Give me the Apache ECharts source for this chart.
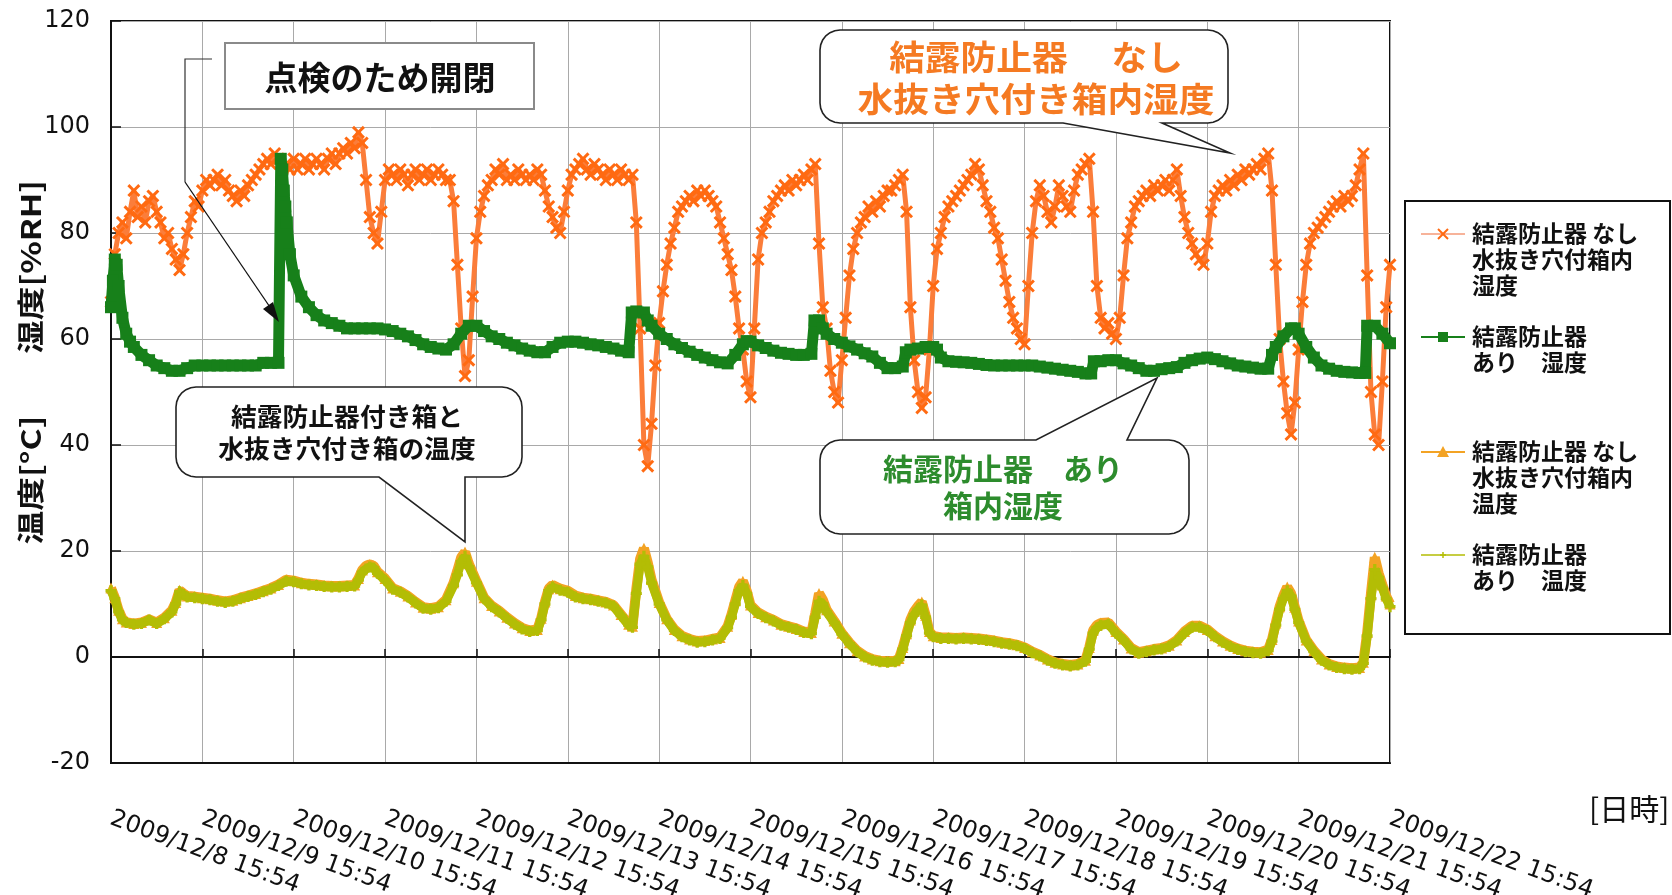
<!DOCTYPE html>
<html>
<head>
<meta charset="utf-8">
<script src="https://cdn.jsdelivr.net/npm/echarts/dist/echarts.min.js"></script>
<style>
  html, body { margin: 0; padding: 0; background: #ffffff; }
  #chart { width: 1672px; height: 895px; }
</style>
</head>
<body>
<div id="chart"></div>
<script>
// Tick labels for the time axis (one per day, hours counted from 2009/12/8 15:54)
const dayLabels = [
  '2009/12/8 15:54', '2009/12/9 15:54', '2009/12/10 15:54', '2009/12/11 15:54',
  '2009/12/12 15:54', '2009/12/13 15:54', '2009/12/14 15:54', '2009/12/15 15:54',
  '2009/12/16 15:54', '2009/12/17 15:54', '2009/12/18 15:54', '2009/12/19 15:54',
  '2009/12/20 15:54', '2009/12/21 15:54', '2009/12/22 15:54'
];

// Humidity [%RH] inside the box with drain hole, no anti-condensation unit (hourly)
const rhPlain = [
  67,76,80,82,79,84,88,83,85,82,86,87,84,82,79,80,77,75,73,76,80,83,86,85,
  88,90,89,90,91,89,90,88,87,86,88,87,89,90,91,92,93,94,93,95,94,92,93,92,
  94,92,93,94,92,93,94,93,92,94,95,93,95,96,95,97,96,99,97,90,83,80,78,84,
  90,92,91,90,92,91,89,91,92,90,91,92,90,91,92,91,90,90,86,74,62,53,56,68,
  79,84,87,89,90,92,91,93,90,91,90,92,91,90,91,90,92,91,88,85,83,81,80,84,
  88,91,92,93,94,92,91,93,92,91,90,92,91,90,92,91,90,91,82,62,40,36,44,55,
  63,69,74,78,81,84,85,86,87,86,88,87,88,87,86,85,82,79,76,73,68,62,58,52,
  49,62,75,80,82,84,86,87,88,89,88,90,89,90,91,90,92,93,78,66,62,54,50,48,
  56,64,72,77,80,82,83,85,84,86,85,87,88,88,89,90,91,84,66,56,50,47,49,58,
  70,77,80,83,85,86,87,88,89,90,91,93,92,89,86,84,81,79,75,71,67,64,62,60,
  59,70,80,86,89,87,84,82,85,89,87,85,84,88,91,92,93,94,84,70,64,62,63,61,
  60,64,72,79,82,85,86,87,88,87,89,88,89,90,88,90,92,87,83,80,78,76,75,74,
  78,84,87,88,89,88,90,89,91,90,92,91,92,93,92,94,95,88,74,60,52,46,42,48,
  58,67,74,78,80,81,82,83,84,85,86,85,87,86,87,89,92,95,72,50,42,40,52,66,
  74
];

// Humidity [%RH] inside the box with anti-condensation unit: [hour, value]
const rhGuard = [
  [0,66],[0.5,71],[1,75],[1.5,74],[2,70],[3,64],[4,61],[5,59.5],[6,58.5],[8,57],
  [10,56],[12,55],[14,54.5],[16,54],[18,54],[20,54.5],[22,55],[24,55],[26,55],[28,55],
  [30,55],[32,55],[34,55],[36,55],[38,55],[40,55.5],[42,55.5],[44,55.5],
  [44.6,94],[45,92],[45.4,88],[45.8,85],[46.2,82],[47,76],[48,72],[50,68],[52,66],
  [54,64.5],[56,63.5],[58,63],[60,62.5],[62,62],[64,62],[66,62],[68,62],[70,62],
  [72,61.8],[74,61.5],[76,61],[78,60.5],[80,59.8],[82,59],[84,58.5],[86,58.2],[88,58],
  [90,59],[92,61],[94,62.5],[96,62.5],[98,61.5],[100,60.5],[102,60],[104,59.3],[106,58.8],
  [108,58.2],[110,57.8],[112,57.5],[114,57.5],[116,58.5],[118,59.3],[120,59.5],[122,59.5],
  [124,59.3],[126,59],[128,58.8],[130,58.5],[132,58.2],[134,57.8],[136,57.5],[136.8,65],
  [138,65.2],[140,65],[141,63.5],[142,62.5],[144,61],[146,60],[148,59],[150,58.3],
  [152,57.6],[154,57],[156,56.5],[158,56],[160,55.6],[162,55.4],[164,57],[166,59],
  [167,59.6],[168,59.5],[170,58.8],[172,58.3],[174,57.8],[176,57.4],[178,57.2],[180,57],
  [182,57],[184,57.2],[184.8,63.5],[186,63.5],[187,62],[188,61],[190,60],[192,59.3],
  [194,58.6],[196,58],[198,57.3],[200,56.7],[202,55.5],[204,54.5],[206,54.5],[208,54.8],
  [208.8,57.5],[210,58],[212,58.2],[214,58.5],[216,58.5],[217,58],[218,56.5],[220,55.8],
  [222,55.7],[224,55.6],[226,55.5],[228,55.3],[230,55.1],[232,55],[234,55],[236,55],
  [238,55],[240,55],[242,55],[244,54.8],[246,54.6],[248,54.4],[250,54.2],[252,54],
  [254,53.8],[256,53.5],[257.5,53.5],[258.2,55.8],[260,55.8],[262,56],[264,56],[266,55.4],
  [268,55],[270,54.5],[272,54],[274,54],[276,54.3],[278,54.5],[280,54.7],[282,55.5],
  [284,56],[286,56.3],[288,56.5],[290,56.2],[292,55.8],[294,55.4],[296,55],[298,54.8],
  [300,54.6],[302,54.4],[304,54.4],[305,57],[306,58.5],[308,60.5],[310,62],[311,62],
  [312,61],[314,58.5],[316,56.5],[318,55],[320,54.4],[322,54],[324,53.8],[326,53.7],
  [328,53.6],[329.5,53.6],[330,62.5],[332,62.5],[334,61],[336,59.2]
];

// Temperature [°C] inside the box with drain hole, no unit: [hour, value]
const tPlain = [
  [0,13],[1,11.2],[2,8.8],[3,7.2],[4,6.6],[6,6.3],[8,6.5],[10,7.1],[12,6.5],[14,7.4],
  [16,8.8],[17,10.3],[18,12.6],[19,12],[20,11.5],[22,11.4],[24,11.2],[26,11],[28,10.7],
  [30,10.5],[32,10.7],[34,11.2],[36,11.6],[38,12],[40,12.5],[42,13],[44,13.7],[46,14.6],
  [48,14.4],[50,14],[52,13.8],[54,13.7],[56,13.5],[58,13.4],[60,13.4],[62,13.5],[64,13.6],
  [65,14.8],[66,16.4],[67,17.2],[68,17.5],[69,17.2],[70,16.1],[72,14.8],[74,13],[76,12.4],
  [78,11.5],[80,10.4],[82,9.4],[84,9.2],[86,9.5],[88,10.8],[90,14],[91,16.3],[92,18.8],
  [93,19.8],[94,17.6],[96,14.3],[98,11.2],[100,9.7],[102,8.7],[104,7.5],[106,6.4],[108,5.5],
  [110,5],[112,5.2],[113,7.3],[114,10.4],[115,12.9],[116,13.6],[118,12.9],[120,12.5],
  [122,11.6],[124,11.2],[126,11],[128,10.7],[130,10.4],[132,9.8],[134,8],[136,6.2],[137,5.8],
  [138,12.8],[139,18.5],[140,20.5],[141,17.8],[142,14.6],[144,10.3],[146,7.2],[148,5.2],
  [150,4],[152,3.4],[154,3],[156,3.1],[158,3.4],[160,3.7],[162,5.8],[163,8],[164,10.6],
  [165,13.2],[166,14.3],[167,12.5],[168,9.8],[170,8.4],[172,7.6],[174,7],[176,6.2],[178,5.8],
  [180,5.4],[182,4.8],[184,4.6],[185,8.2],[186,12],[187,10.8],[188,8.9],[190,6.8],[192,4.5],
  [194,2.7],[196,1.2],[198,0.2],[200,-0.4],[202,-0.7],[204,-0.8],[206,-0.7],[207,-0.3],
  [208,1.8],[209,4.4],[210,7],[211,8.6],[212,9.6],[213,10.4],[214,7.9],[215,4.8],[216,4],
  [218,3.7],[220,3.7],[222,3.6],[224,3.7],[226,3.6],[228,3.5],[230,3.3],[232,3.1],[234,2.8],
  [236,2.6],[238,2.3],[240,1.8],[242,1],[244,0.4],[246,-0.4],[248,-1],[250,-1.3],[252,-1.5],
  [254,-1.3],[256,-0.6],[257,1.8],[258,5],[259,6],[260,6.4],[262,6.5],[264,4.8],[266,3.4],
  [268,1.7],[270,0.9],[272,1.2],[274,1.5],[276,1.7],[278,2.2],[280,3.2],[282,4.8],[284,5.9],
  [286,5.9],[288,5.2],[290,4],[292,3],[294,2.2],[296,1.6],[298,1.2],[300,1],[302,0.9],
  [304,1.4],[305,3.3],[306,6.4],[307,9.5],[308,11.6],[309,13.2],[310,12],[311,9.4],[312,6.8],
  [314,3.2],[316,1.2],[318,-0.4],[320,-1.3],[322,-1.8],[324,-2],[326,-2.1],[328,-2],
  [329,-1],[330,4.6],[331,12],[332,18.8],[333,15.8],[334,13.6],[335,11.5],[336,10]
];

// Temperature [°C] inside the box with anti-condensation unit: [hour, value]
const tGuard = [
  [0,12.5],[1,11],[2,8.5],[3,7],[4,6.5],[6,6.2],[8,6.3],[10,7],[12,6.3],[14,7.2],
  [16,8.5],[17,10],[18,12.3],[19,11.8],[20,11.3],[22,11.2],[24,11],[26,10.8],[28,10.5],
  [30,10.3],[32,10.5],[34,11],[36,11.4],[38,11.8],[40,12.3],[42,12.8],[44,13.5],[46,14.3],
  [48,14.2],[50,13.8],[52,13.6],[54,13.5],[56,13.3],[58,13.2],[60,13.2],[62,13.3],[64,13.4],
  [65,14.5],[66,16],[67,16.6],[68,17],[69,16.8],[70,15.8],[72,14.5],[74,12.8],[76,12.2],
  [78,11.3],[80,10.2],[82,9.2],[84,9],[86,9.3],[88,10.5],[90,13.5],[91,15.5],[92,18],
  [93,19],[94,17],[96,14],[98,11],[100,9.5],[102,8.5],[104,7.3],[106,6.2],[108,5.3],
  [110,4.8],[112,5],[113,7],[114,10],[115,12.5],[116,13.2],[118,12.6],[120,12.2],
  [122,11.3],[124,11],[126,10.8],[128,10.5],[130,10.2],[132,9.6],[134,7.8],[136,6],[137,5.6],
  [138,12],[139,17.5],[140,19],[141,17],[142,14],[144,10],[146,7],[148,5],[150,3.8],
  [152,3.2],[154,2.8],[156,2.9],[158,3.2],[160,3.5],[162,5.5],[163,7.5],[164,10],[165,12.5],
  [166,13.5],[167,12],[168,9.5],[170,8.2],[172,7.4],[174,6.8],[176,6],[178,5.6],[180,5.2],
  [182,4.6],[184,4.4],[185,7.5],[186,10.5],[187,10],[188,8.5],[190,6.5],[192,4.3],[194,2.5],
  [196,1],[198,0],[200,-0.6],[202,-0.9],[204,-1],[206,-0.9],[207,-0.5],[208,1.5],[209,4],
  [210,6.5],[211,8],[212,9],[213,9.8],[214,7.5],[215,4.5],[216,3.8],[218,3.5],[220,3.5],
  [222,3.4],[224,3.5],[226,3.4],[228,3.3],[230,3.1],[232,2.9],[234,2.6],[236,2.4],[238,2.1],
  [240,1.6],[242,0.8],[244,0.2],[246,-0.6],[248,-1.2],[250,-1.5],[252,-1.7],[254,-1.5],
  [256,-0.8],[257,1.5],[258,4.5],[259,5.5],[260,6],[262,6.2],[264,4.5],[266,3.2],[268,1.5],
  [270,0.7],[272,1],[274,1.3],[276,1.5],[278,2],[280,3],[282,4.5],[284,5.6],[286,5.6],
  [288,5],[290,3.8],[292,2.8],[294,2],[296,1.4],[298,1],[300,0.8],[302,0.7],[304,1.2],
  [305,3],[306,6],[307,9],[308,11],[309,12.5],[310,11.5],[311,9],[312,6.5],[314,3],
  [316,1],[318,-0.6],[320,-1.5],[322,-2],[324,-2.2],[326,-2.3],[328,-2.2],[329,-1.2],
  [330,4],[331,11],[332,16.5],[333,15],[334,13],[335,11],[336,9.5]
];

const COLOR_RH_PLAIN = '#ff6a12';
const COLOR_RH_PLAIN_LINE = '#fb7d3a';
const COLOR_RH_GUARD = '#17801a';
const COLOR_T_PLAIN = '#f3a324';
const COLOR_T_GUARD = '#b3bd05';
const CJK = '"Noto Sans CJK JP", "Noto Sans CJK SC", sans-serif';

const CROSS = 'path://M0,1.6L1.6,0L5,3.4L8.4,0L10,1.6L6.6,5L10,8.4L8.4,10L5,6.6L1.6,10L0,8.4L3.4,5Z';
const PLUS = 'path://M3.5,0H6.5V3.5H10V6.5H6.5V10H3.5V6.5H0V3.5H3.5Z';

// Quarter arc points from angle a0 to a1 around (cx, cy)
function arcPts(cx, cy, r, a0, a1) {
  const pts = [];
  for (let i = 0; i <= 6; i++) {
    const a = a0 + (a1 - a0) * i / 6;
    pts.push([cx + r * Math.cos(a), cy + r * Math.sin(a)]);
  }
  return pts;
}

// Rounded callout outline with a wedge pointer on its top or bottom edge
function calloutPoints(x1, y1, x2, y2, r, side, a, b, tx, ty) {
  const P = Math.PI;
  let pts = [];
  pts = pts.concat(arcPts(x1 + r, y1 + r, r, P, 1.5 * P));
  if (side === 'top') pts.push([a, y1], [tx, ty], [b, y1]);
  pts = pts.concat(arcPts(x2 - r, y1 + r, r, 1.5 * P, 2 * P));
  pts = pts.concat(arcPts(x2 - r, y2 - r, r, 0, 0.5 * P));
  if (side === 'bottom') pts.push([b, y2], [tx, ty], [a, y2]);
  pts = pts.concat(arcPts(x1 + r, y2 - r, r, 0.5 * P, P));
  return pts;
}

function callout(box, pointer, lines, color, fontSize, lineHeight, cx, cy, sx) {
  return [
    {
      type: 'polygon', z: 100,
      shape: { points: calloutPoints(box[0], box[1], box[2], box[3], 20, pointer[0], pointer[1], pointer[2], pointer[3], pointer[4]) },
      style: { fill: '#ffffff', stroke: '#222222', lineWidth: 1.6 }
    },
    {
      type: 'text', z: 101, x: cx, y: cy, scaleX: sx || 1,
      style: {
        text: lines.join('\n'), fill: color, align: 'center', verticalAlign: 'middle',
        font: 'bold ' + fontSize + 'px ' + CJK, lineHeight: lineHeight
      }
    }
  ];
}

// Legend drawn as a framed box on the right
function legendEntry(y, lineColor, lineWidth, markers, text) {
  return [
    { type: 'line', z: 101, shape: { x1: 1421, y1: y, x2: 1465, y2: y }, style: { stroke: lineColor, lineWidth: lineWidth } }
  ].concat(markers, [
    {
      type: 'text', z: 101, x: 1472, y: y - 14,
      style: { text: text, fill: '#111111', font: 'bold 23px ' + CJK, lineHeight: 26, verticalAlign: 'top', align: 'left' }
    }
  ]);
}

const graphics = [].concat(
  // axis titles
  [
    { type: 'text', z: 50, x: 31, y: 267, rotation: Math.PI / 2, scaleX: 1.25,
      style: { text: '湿度[%RH]', fill: '#111', font: 'bold 27px ' + CJK, align: 'center', verticalAlign: 'middle' } },
    { type: 'text', z: 50, x: 31, y: 480, rotation: Math.PI / 2, scaleX: 1.25,
      style: { text: '温度[°C]', fill: '#111', font: 'bold 27px ' + CJK, align: 'center', verticalAlign: 'middle' } },
    { type: 'text', z: 50, x: 1589, y: 809,
      style: { text: '[日時]', fill: '#111', font: '30px ' + CJK, align: 'left', verticalAlign: 'middle' } }
  ],
  // inspection note with leader and arrow
  [
    { type: 'polyline', z: 99, shape: { points: [[212, 59], [185, 59], [185, 182]] },
      style: { stroke: '#333', lineWidth: 1.2, fill: null } },
    { type: 'line', z: 99, shape: { x1: 185, y1: 182, x2: 276, y2: 316 },
      style: { stroke: '#111', lineWidth: 1.3 } },
    { type: 'polygon', z: 99, shape: { points: [[279, 322], [263, 309], [273, 302]] },
      style: { fill: '#111' } },
    { type: 'rect', z: 100, shape: { x: 225, y: 43, width: 309, height: 66 },
      style: { fill: '#ffffff', stroke: '#8a8a8a', lineWidth: 2 } },
    { type: 'text', z: 101, x: 380, y: 77,
      style: { text: '点検のため開閉', fill: '#111', font: 'bold 33px ' + CJK, align: 'center', verticalAlign: 'middle' } }
  ],
  callout([820, 30, 1228, 123], ['bottom', 1063, 1162, 1230, 153],
    ['結露防止器　 なし', '水抜き穴付き箱内湿度'], '#f57a22', 34, 42, 1036, 78, 1.05),
  callout([820, 440, 1189, 534], ['top', 1036, 1127, 1157, 378],
    ['結露防止器　あり', '箱内湿度'], '#2d8c2d', 30, 37, 1003, 487),
  callout([176, 387, 522, 477], ['bottom', 379, 465, 465, 542],
    ['結露防止器付き箱と', '水抜き穴付き箱の温度'], '#111111', 25, 32, 347, 432, 1.03),
  // legend
  [
    { type: 'rect', z: 100, shape: { x: 1405, y: 201, width: 265, height: 433 },
      style: { fill: '#ffffff', stroke: '#111', lineWidth: 2 } }
  ],
  legendEntry(234, '#f59a78', 1.5, [
      { type: 'line', z: 102, shape: { x1: 1438, y1: 229, x2: 1448, y2: 239 }, style: { stroke: COLOR_RH_PLAIN, lineWidth: 2 } },
      { type: 'line', z: 102, shape: { x1: 1448, y1: 229, x2: 1438, y2: 239 }, style: { stroke: COLOR_RH_PLAIN, lineWidth: 2 } }
    ],
    '結露防止器 なし\n水抜き穴付箱内\n湿度'),
  legendEntry(337, COLOR_RH_GUARD, 2, [
      { type: 'rect', z: 102, shape: { x: 1438, y: 332, width: 10, height: 10 }, style: { fill: COLOR_RH_GUARD } }
    ],
    '結露防止器\nあり　湿度'),
  legendEntry(452, COLOR_T_PLAIN, 2, [
      { type: 'polygon', z: 102, shape: { points: [[1443, 446], [1449, 457], [1437, 457]] }, style: { fill: COLOR_T_PLAIN } }
    ],
    '結露防止器 なし\n水抜き穴付箱内\n温度'),
  legendEntry(555, COLOR_T_GUARD, 1.5, [
      { type: 'line', z: 102, shape: { x1: 1440, y1: 555, x2: 1446, y2: 555 }, style: { stroke: COLOR_T_GUARD, lineWidth: 1.5 } },
      { type: 'line', z: 102, shape: { x1: 1443, y1: 552, x2: 1443, y2: 558 }, style: { stroke: COLOR_T_GUARD, lineWidth: 1.5 } }
    ],
    '結露防止器\nあり　温度')
);

const chart = echarts.init(document.getElementById('chart'), null, { renderer: 'canvas' });

chart.setOption({
  animation: false,
  backgroundColor: '#ffffff',
  grid: {
    left: 111, top: 21, width: 1279, height: 742,
    outerBoundsMode: 'none', containLabel: false,
    show: true, borderColor: '#111111', borderWidth: 2, backgroundColor: 'transparent'
  },
  xAxis: [
    {
      type: 'value', min: 0, max: 336, interval: 24, position: 'bottom',
      axisLine: { onZero: false, lineStyle: { color: '#111', width: 2 } },
      axisTick: { show: false },
      splitLine: { show: true, lineStyle: { color: '#a9a9a9', width: 1 } },
      axisLabel: {
        rotate: -20, margin: 55, showMinLabel: true, showMaxLabel: true,
        color: '#111', fontSize: 24, fontFamily: '"DejaVu Sans", sans-serif',
        formatter: function (v) { return dayLabels[Math.round(v / 24)] || ''; }
      }
    },
    {
      // zero line of the temperature scale with its day ticks
      type: 'value', min: 0, max: 336, interval: 24, position: 'top',
      axisLine: { onZero: true, lineStyle: { color: '#111', width: 2 } },
      axisTick: { show: true, inside: false, length: 8, lineStyle: { color: '#111', width: 1.5 } },
      axisLabel: { show: false },
      splitLine: { show: false }
    }
  ],
  yAxis: {
    type: 'value', min: -20, max: 120, interval: 20,
    axisLine: { show: true, lineStyle: { color: '#111', width: 2 } },
    axisTick: { show: true, inside: true, length: 10, lineStyle: { color: '#111', width: 1.5 } },
    splitLine: { show: true, lineStyle: { color: '#a9a9a9', width: 1 } },
    axisLabel: { margin: 21, color: '#111', fontSize: 24, fontFamily: '"DejaVu Sans", sans-serif' }
  },
  series: [
    {
      name: '結露防止器 なし 水抜き穴付箱内湿度', type: 'line', xAxisIndex: 0,
      data: rhPlain.map(function (v, i) { return [i, v]; }),
      showSymbol: true, showAllSymbol: true, symbol: CROSS, symbolSize: 13,
      itemStyle: { color: COLOR_RH_PLAIN },
      lineStyle: { color: COLOR_RH_PLAIN_LINE, width: 5 },
      z: 2
    },
    {
      name: '結露防止器 あり 湿度', type: 'line', xAxisIndex: 0,
      data: rhGuard,
      showSymbol: true, showAllSymbol: true, symbol: 'rect', symbolSize: 12,
      itemStyle: { color: COLOR_RH_GUARD },
      lineStyle: { color: COLOR_RH_GUARD, width: 11 },
      z: 3
    },
    {
      name: '結露防止器 なし 水抜き穴付箱内温度', type: 'line', xAxisIndex: 0,
      data: tPlain,
      showSymbol: true, showAllSymbol: true, symbol: 'triangle', symbolSize: 11,
      itemStyle: { color: COLOR_T_PLAIN },
      lineStyle: { color: COLOR_T_PLAIN, width: 10 },
      z: 4
    },
    {
      name: '結露防止器 あり 温度', type: 'line', xAxisIndex: 0,
      data: tGuard,
      showSymbol: true, showAllSymbol: true, symbol: PLUS, symbolSize: 11,
      itemStyle: { color: COLOR_T_GUARD },
      lineStyle: { color: COLOR_T_GUARD, width: 9 },
      z: 5
    }
  ],
  graphic: graphics
});
</script>
</body>
</html>
